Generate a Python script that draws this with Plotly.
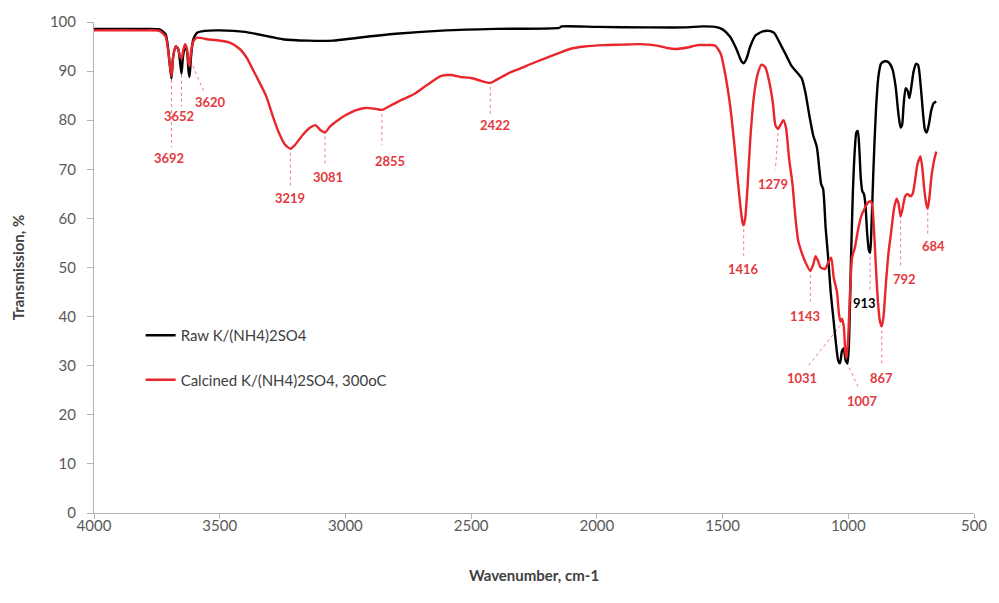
import numpy as np
import plotly.graph_objects as go

# FTIR spectra: wavenumber (cm-1) and transmission (%)
raw_wn = [4000, 3900, 3800, 3740, 3715, 3700, 3692, 3685, 3675, 3665, 3658, 3652, 3646, 3638,
          3630, 3624, 3620, 3614, 3605, 3590, 3560, 3500, 3400, 3300, 3250, 3150, 3050, 2950,
          2800, 2600, 2400, 2150, 2140, 2000, 1800, 1650, 1580, 1530, 1500, 1470, 1445, 1425,
          1416, 1405, 1390, 1370, 1340, 1315, 1295, 1270, 1245, 1225, 1205, 1185, 1170, 1155,
          1140, 1125, 1115, 1108, 1100, 1090, 1080, 1070, 1060, 1050, 1040, 1033, 1025, 1018,
          1010, 1003, 997, 990, 982, 974, 968, 962, 956, 950, 944, 938, 932, 925, 918, 913,
          908, 900, 890, 880, 870, 855, 840, 825, 812, 800, 792, 786, 780, 772, 764, 757, 750,
          740, 730, 722, 712, 702, 695, 688, 680, 670, 660, 650]
raw_t = [98.6, 98.6, 98.6, 98.5, 97.5, 92, 88.5, 93, 95, 94.5, 92, 89.5, 93, 95,
         94, 90, 88.8, 93, 96.5, 97.8, 98.2, 98.3, 98.0, 97.0, 96.5, 96.2, 96.2, 96.8,
         97.6, 98.3, 98.6, 98.8, 99.1, 99.0, 98.9, 98.9, 99.1, 99.0, 98.5, 97, 94.5, 92,
         91.6, 92.5, 95, 97.2, 98.1, 98.2, 97.8, 95.5, 93, 91, 89.8, 88.5, 85.5, 81,
         77, 74.5, 70, 67, 66, 58, 52, 45, 40, 35, 31, 30.5, 33, 33.5,
         31, 30.5, 35, 50, 65, 74, 77.5, 77.8, 74, 68, 65.5, 65, 63, 57, 53.5, 53,
         58, 70, 82, 89, 91.5, 92, 91.8, 90.5, 87, 81, 78.5, 79, 83, 86.5, 86, 84.5, 86.5,
         90, 91.5, 91.2, 87, 81, 78, 77.5, 79, 82, 83.5, 83.8]

calc_wn = [4000, 3800, 3740, 3715, 3700, 3692, 3685, 3675, 3665, 3658, 3652, 3646, 3638, 3630,
           3624, 3620, 3614, 3605, 3590, 3550, 3500, 3460, 3420, 3390, 3370, 3340, 3316, 3290,
           3265, 3240, 3219, 3200, 3170, 3140, 3119, 3100, 3081, 3060, 3030, 3000, 2960, 2921,
           2880, 2855, 2820, 2770, 2724, 2680, 2621, 2580, 2542, 2500, 2460, 2424, 2400, 2350,
           2305, 2260, 2211, 2160, 2107, 2050, 1973, 1900, 1831, 1760, 1720, 1685, 1640, 1600,
           1566, 1530, 1507, 1490, 1470, 1455, 1440, 1428, 1420, 1416, 1410, 1400, 1390, 1375,
           1360, 1345, 1330, 1315, 1300, 1290, 1279, 1270, 1258, 1248, 1235, 1222, 1210, 1199,
           1185, 1170, 1151, 1140, 1130, 1120, 1110, 1092, 1080, 1068, 1058, 1045, 1037, 1031,
           1025, 1018, 1012, 1007, 1000, 993, 985, 974, 960, 946, 935, 922, 913, 906, 898, 890,
           882, 874, 867, 860, 850, 840, 830, 818, 808, 800, 792, 784, 774, 764, 754, 744, 735,
           725, 713, 705, 698, 690, 684, 678, 668, 658, 650]
calc_t = [98.3, 98.3, 98.2, 97, 92, 89, 93, 95, 94.5, 93, 92.5, 94, 95.5, 94.5,
          91.5, 91, 94, 96, 96.8, 96.5, 96.2, 95.8, 94.5, 92.5, 90.5, 87.5, 85, 81,
          77.5, 75, 74.2, 75, 77, 78.5, 79, 78, 77.5, 78.8, 80, 81, 82, 82.5,
          82.3, 82.1, 83, 84.3, 85.4, 87, 89, 89.2, 88.8, 88.6, 88, 87.6, 88.2, 89.6,
          90.5, 91.5, 92.5, 93.5, 94.5, 95, 95.3, 95.4, 95.5, 95.2, 94.7, 94.5, 94.8, 95.3,
          95.3, 95.2, 93.5, 89.5, 83, 76, 68, 62, 59, 58.6, 60, 67, 76, 85,
          89.5, 91.3, 90.8, 88, 83.5, 79, 78.2, 79, 80, 78.5, 72, 67, 60, 55.4,
          53, 51, 49.3, 50.5, 52.3, 51.3, 50, 49.7, 51, 52, 48, 45, 40.5, 39,
          39.5, 38, 33, 31.5, 36, 45, 52, 54, 58, 60.8, 62, 63.2, 63.5, 63, 58, 50,
          43, 39, 38, 40, 47, 53, 57, 62, 64, 63, 60.4, 62, 64.5, 65, 64.5, 65, 67.5,
          71, 72.6, 70, 66, 63, 62, 64, 69, 72, 73.6]

x_ticks = [4000, 3500, 3000, 2500, 2000, 1500, 1000, 500]
y_ticks = [0, 10, 20, 30, 40, 50, 60, 70, 80, 90, 100]

# Peak labels: text, series, peak wavenumber, label anchor (wavenumber, %), leader end (wavenumber, %)
peak_labels = [
    ("3692", "calc", 3692, (3700, 72.4), (3692, 74.5)),
    ("3652", "calc", 3652, (3660, 80.9), (3652, 82.8)),
    ("3620", "calc", 3616, (3535, 83.8), (3560, 85.5)),
    ("3219", "calc", 3219, (3219, 64.1), (3219, 66.2)),
    ("3081", "calc", 3081, (3070, 68.4), (3081, 71.0)),
    ("2855", "calc", 2855, (2823, 71.6), (2855, 75.0)),
    ("2422", "calc", 2424, (2404, 79.1), (2424, 81.2)),
    ("1416", "calc", 1416, (1416, 49.7), (1416, 52.0)),
    ("1279", "calc", 1279, (1298, 67.1), (1290, 70.0)),
    ("1143", "calc", 1151, (1173, 40.2), (1151, 42.6)),
    ("1031", "calc", 1031, (1183, 27.4), (1165, 29.6)),
    ("1007", "calc", 1007, (942, 22.9), (962, 25.8)),
    ("867", "calc", 867, (867, 27.4), (867, 30.0)),
    ("913", "raw", 913, (934, 42.8), (913, 45.0)),
    ("792", "calc", 792, (776, 47.7), (792, 50.3)),
    ("684", "calc", 684, (661, 54.4), (684, 56.4)),
]

RED = "#e8262c"
LABEL_RED = "#e4393e"
BLACK = "#000000"
AXIS = "#b3b3b3"
FONT = "Lato, 'Open Sans', sans-serif"

fig = go.Figure()
fig.add_trace(go.Scatter(x=raw_wn, y=raw_t, mode="lines", name="Raw K/(NH4)2SO4",
                         legendgroup="raw",
                         line=dict(color=BLACK, width=2.4, shape="spline", smoothing=0.6)))
fig.add_trace(go.Scatter(x=calc_wn, y=calc_t, mode="lines", name="Calcined K/(NH4)2SO4, 300oC",
                         legendgroup="calc",
                         line=dict(color=RED, width=2.4, shape="spline", smoothing=0.6)))

series = {"raw": (raw_wn, raw_t), "calc": (calc_wn, calc_t)}
for text, key, wn, (lx, ly), (ex, ey) in peak_labels:
    xs, ys = series[key]
    yv = float(np.interp(wn, xs[::-1], ys[::-1]))
    color = BLACK if key == "raw" else LABEL_RED
    fig.add_shape(type="line", x0=wn, y0=yv - 0.8, x1=ex, y1=ey, xref="x", yref="y",
                  line=dict(color="rgba(232,38,44,0.6)", width=1, dash="dot"), layer="below")
    fig.add_annotation(x=lx, y=ly, text=text, showarrow=False, xref="x", yref="y",
                       font=dict(family=FONT, size=13, color=color, weight="bold"))

fig.update_layout(
    width=999, height=603,
    margin=dict(l=94, r=19, t=20, b=90),
    paper_bgcolor="white", plot_bgcolor="white",
    font=dict(family=FONT, size=15, color="#595959"),
    showlegend=True,
    legend=dict(x=0.053, y=0.395, xanchor="left", yanchor="top",
                bgcolor="rgba(0,0,0,0)", tracegroupgap=22,
                font=dict(family=FONT, size=15, color="#404040")),
    xaxis=dict(range=[4000, 500], tickvals=x_ticks, ticktext=[str(v) for v in x_ticks],
               showgrid=False, zeroline=False, showline=True, linecolor=AXIS, linewidth=1,
               ticks="outside", ticklen=5, tickcolor=AXIS, ticklabelstandoff=-6,
               tickfont=dict(family=FONT, size=15, color="#595959"),
               title=dict(text="<b>Wavenumber, cm-1</b>", standoff=37,
                          font=dict(family=FONT, size=15, color="#404040"))),
    yaxis=dict(range=[0, 100], tickvals=y_ticks, showgrid=False, zeroline=False,
               showline=True, linecolor=AXIS, linewidth=1,
               ticks="outside", ticklen=6, tickcolor=AXIS, ticklabelstandoff=8,
               tickfont=dict(family=FONT, size=15, color="#595959"),
               title=dict(text="<b>Transmission, %</b>", standoff=21,
                          font=dict(family=FONT, size=15, color="#404040"))),
)

fig.write_html("out.html")
